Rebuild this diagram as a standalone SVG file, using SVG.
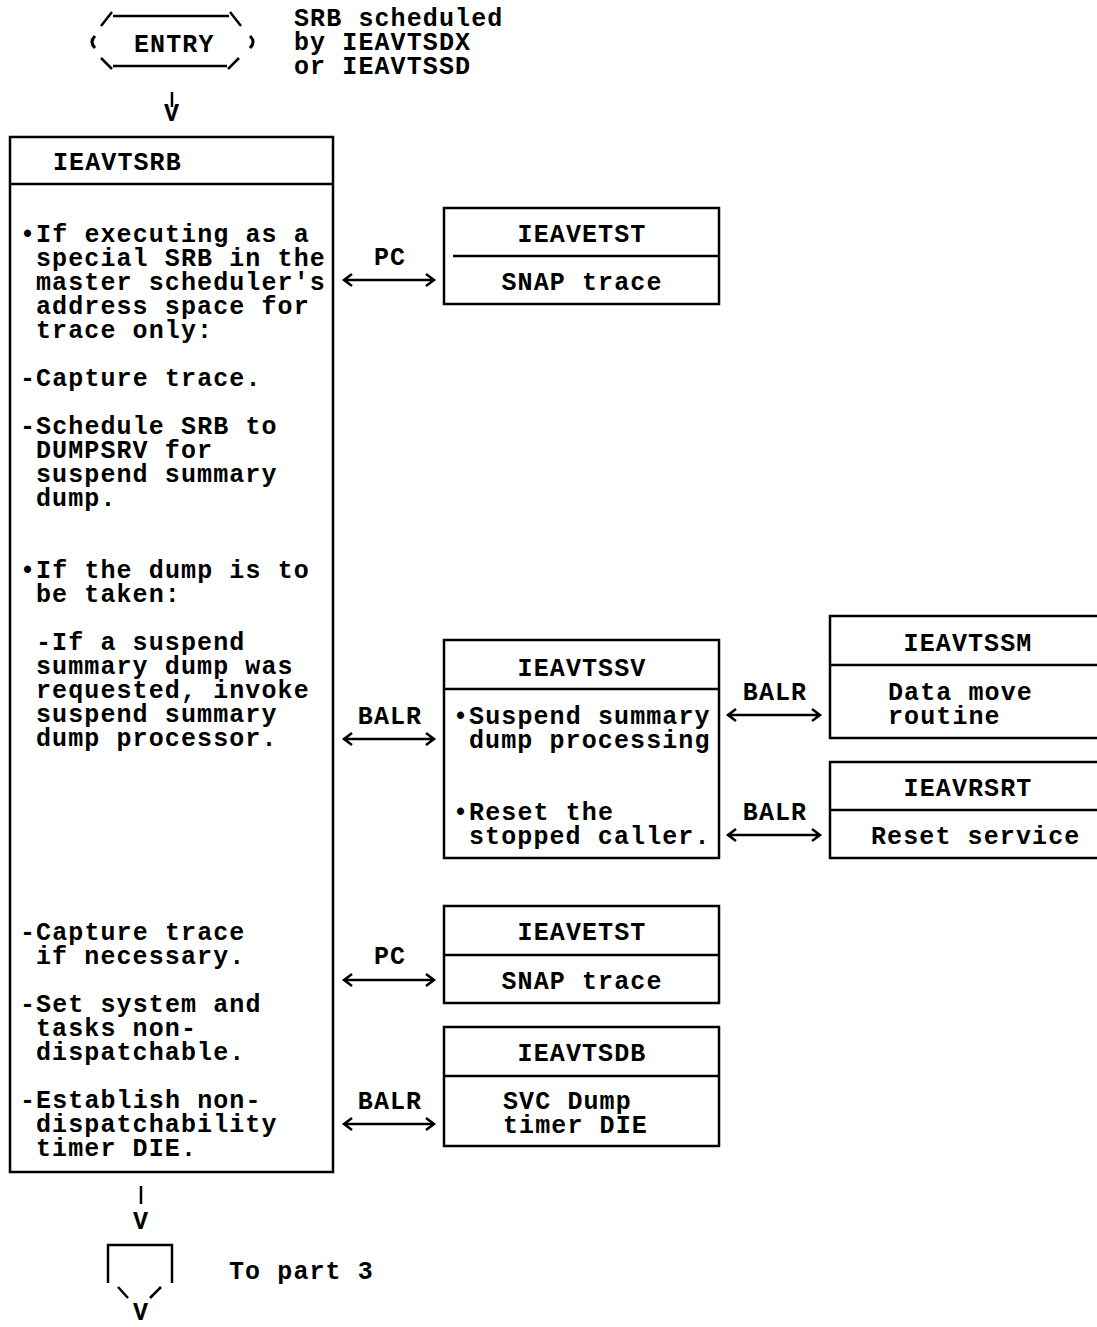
<svg xmlns="http://www.w3.org/2000/svg" width="1097" height="1327" viewBox="0 0 1097 1327">
<style>
text{font-family:"Liberation Mono","DejaVu Sans Mono",monospace;font-weight:bold;font-size:25px;letter-spacing:1.1px;fill:#000}
.c{text-anchor:middle}
.b{fill:#fff;stroke:#000;stroke-width:2.5}
.l{stroke:#000;stroke-width:2.5;fill:none}
.p{stroke:#000;stroke-width:3;fill:none}
.a{stroke:#000;stroke-width:2.5;fill:none;stroke-linejoin:miter}
</style>
<rect width="1097" height="1327" fill="#fff"/>

<g id="entry">
  <path class="l" d="M101,26 L112,12 M113,16 L229,16 M230,12 L241,26 M101,58 L112,69 M113,66 L227,66 M228,69 L239,58"/>
  <path class="p" d="M95,36 Q89,42 95,48 M250,36 Q256,42 250,48"/>
  <text x="134" y="52">ENTRY</text>
  <text x="294" y="26">SRB scheduled</text>
  <text x="294" y="50">by IEAVTSDX</text>
  <text x="294" y="74">or IEAVTSSD</text>
</g>

<g id="IEAVTSRB">
  <rect class="b" x="10" y="137" width="323" height="1035"/>
  <line class="l" x1="10" y1="184" x2="333" y2="184"/>
  <text x="53" y="170">IEAVTSRB</text>
  <text x="20" y="242">•If executing as a</text>
  <text x="36" y="266">special SRB in the</text>
  <text x="36" y="290">master scheduler's</text>
  <text x="36" y="314">address space for</text>
  <text x="36" y="338">trace only:</text>
  <text x="20" y="386">-Capture trace.</text>
  <text x="20" y="434">-Schedule SRB to</text>
  <text x="36" y="458">DUMPSRV for</text>
  <text x="36" y="482">suspend summary</text>
  <text x="36" y="506">dump.</text>
  <text x="20" y="578">•If the dump is to</text>
  <text x="36" y="602">be taken:</text>
  <text x="36" y="650">-If a suspend</text>
  <text x="36" y="674">summary dump was</text>
  <text x="36" y="698">requested, invoke</text>
  <text x="36" y="722">suspend summary</text>
  <text x="36" y="746">dump processor.</text>
  <text x="20" y="940">-Capture trace</text>
  <text x="36" y="964">if necessary.</text>
  <text x="20" y="1012">-Set system and</text>
  <text x="36" y="1036">tasks non-</text>
  <text x="36" y="1060">dispatchable.</text>
  <text x="20" y="1108">-Establish non-</text>
  <text x="36" y="1132">dispatchability</text>
  <text x="36" y="1156">timer DIE.</text>
</g>

<g id="IEAVETST1">
  <rect class="b" x="444" y="208" width="275" height="96"/>
  <line class="l" x1="453" y1="256" x2="719" y2="256"/>
  <text class="c" x="582" y="242">IEAVETST</text>
  <text class="c" x="582" y="290">SNAP trace</text>
</g>

<g id="IEAVTSSV">
  <rect class="b" x="444" y="640" width="275" height="218"/>
  <line class="l" x1="444" y1="689" x2="719" y2="689"/>
  <text class="c" x="582" y="676">IEAVTSSV</text>
  <text x="453" y="724">•Suspend summary</text>
  <text x="469" y="748">dump processing</text>
  <text x="453" y="820">•Reset the</text>
  <text x="469" y="844">stopped caller.</text>
</g>

<g id="IEAVTSSM">
  <rect class="b" x="830" y="616" width="280" height="122"/>
  <line class="l" x1="830" y1="665" x2="1110" y2="665"/>
  <text class="c" x="968" y="651">IEAVTSSM</text>
  <text x="888" y="700">Data move</text>
  <text x="888" y="724">routine</text>
</g>

<g id="IEAVRSRT">
  <rect class="b" x="830" y="762" width="280" height="96"/>
  <line class="l" x1="830" y1="810" x2="1110" y2="810"/>
  <text class="c" x="968" y="796">IEAVRSRT</text>
  <text x="871" y="844">Reset service</text>
</g>

<g id="IEAVETST2">
  <rect class="b" x="444" y="906" width="275" height="97"/>
  <line class="l" x1="444" y1="955" x2="719" y2="955"/>
  <text class="c" x="582" y="940">IEAVETST</text>
  <text class="c" x="582" y="989">SNAP trace</text>
</g>

<g id="IEAVTSDB">
  <rect class="b" x="444" y="1027" width="275" height="119"/>
  <line class="l" x1="444" y1="1076" x2="719" y2="1076"/>
  <text class="c" x="582" y="1061">IEAVTSDB</text>
  <text x="503" y="1109">SVC Dump</text>
  <text x="503" y="1133">timer DIE</text>
</g>

<g id="offpage">
  <path class="l" d="M108,1283 L108,1245 L172,1245 L172,1283 M118,1287 L128,1298 M161,1287 L150,1298"/>
  <text x="229" y="1279">To part 3</text>
</g>

<g id="connectors">
  <line class="l" x1="172" y1="92" x2="172" y2="107"/>
  <text class="c" x="172" y="121">V</text>
  <line class="l" x1="141" y1="1186" x2="141" y2="1204"/>
  <text class="c" x="141" y="1229">V</text>
  <text class="c" x="141" y="1320">V</text>

  <text class="c" x="390" y="265">PC</text>
  <path class="a" d="M352,274 L344,280 L352,286 M344,280 L434,280 M426,274 L434,280 L426,286"/>

  <text class="c" x="390" y="724">BALR</text>
  <path class="a" d="M352,733 L344,739 L352,745 M344,739 L434,739 M426,733 L434,739 L426,745"/>

  <text class="c" x="775" y="700">BALR</text>
  <path class="a" d="M736,709 L728,715 L736,721 M728,715 L820,715 M812,709 L820,715 L812,721"/>

  <text class="c" x="775" y="820">BALR</text>
  <path class="a" d="M736,829 L728,835 L736,841 M728,835 L820,835 M812,829 L820,835 L812,841"/>

  <text class="c" x="390" y="964">PC</text>
  <path class="a" d="M352,974 L344,980 L352,986 M344,980 L434,980 M426,974 L434,980 L426,986"/>

  <text class="c" x="390" y="1109">BALR</text>
  <path class="a" d="M352,1118 L344,1124 L352,1130 M344,1124 L434,1124 M426,1118 L434,1124 L426,1130"/>
</g>
</svg>
